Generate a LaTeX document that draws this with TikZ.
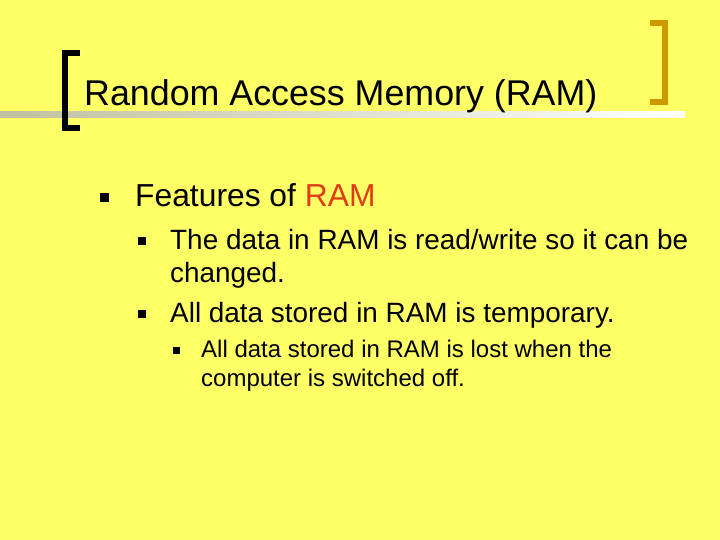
\documentclass[tikz,border=0pt]{standalone}
\usepackage{fontspec}
\setmainfont{Liberation Sans}
\definecolor{bg}{HTML}{FFFF66}
\definecolor{ramred}{HTML}{E03C14}
\definecolor{gold}{HTML}{CC9900}
\definecolor{lgray}{HTML}{C0C0A0}
\begin{document}
\begin{tikzpicture}[x=1pt,y=-1pt,
  txt/.style={anchor=base west,inner sep=0pt,text=black},
  bul/.style={fill=black,minimum size=#1,inner sep=0pt}]
\fill[bg] (0,0) rectangle (720,540);
\useasboundingbox (0,0) rectangle (720,540);
% gradient line
\shade[left color=lgray,right color=white] (0,112) rectangle (685,118);
% left bracket
\fill[black] (62,50) rectangle (68,131);
\fill[black] (62,50) rectangle (80,56);
\fill[black] (62,125) rectangle (80,131);
% right bracket
\fill[gold] (662,20) rectangle (668,105);
\fill[gold] (650,20) rectangle (668,26);
\fill[gold] (650,99) rectangle (668,105);
\node[txt,font=\fontsize{35.8}{40}\selectfont] (title) at (84,106) {Random Access Memory (RAM)};
\node[bul=9pt] (b1) at (104,198) {};
\node[txt,font=\fontsize{31.8}{36}\selectfont] (f) at (135,207) {Features of \textcolor{ramred}{RAM}};
\node[bul=8pt] (b2) at (142,241) {};
\node[txt,font=\fontsize{27.9}{32}\selectfont] (s1) at (170,249) {The data in RAM is read/write so it can be};
\node[txt,font=\fontsize{27.9}{32}\selectfont] (s1b) at (170,282) {changed.};
\node[bul=8pt] (b3) at (142,314) {};
\node[txt,font=\fontsize{27.9}{32}\selectfont] (s2) at (170,322) {All data stored in RAM is temporary.};
\node[bul=7pt] (b4) at (176,350) {};
\node[txt,font=\fontsize{24}{28}\selectfont] (t1) at (201,357) {All data stored in RAM is lost when the};
\node[txt,font=\fontsize{24}{28}\selectfont] (t2) at (201,386) {computer is switched off.};
\end{tikzpicture}
\end{document}
